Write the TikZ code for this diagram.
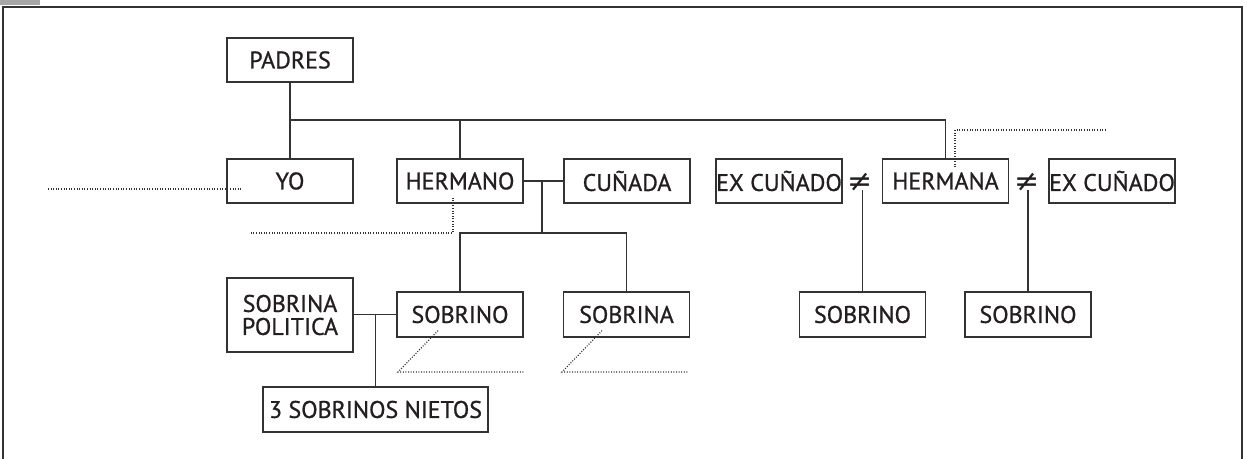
\documentclass[tikz,border=0pt]{standalone}
\usepackage{fontspec}
\setmainfont{PT Sans}[FakeBold=0.9]
\newfontfamily\symfont{DejaVu Sans}
\definecolor{ink}{HTML}{231F20}
\definecolor{ln}{HTML}{333333}
\begin{document}
\begin{tikzpicture}[x=1pt,y=-1pt,
  box/.style={draw=ln,line width=1.2pt,minimum width=126pt,minimum height=44pt,inner sep=0pt,
    font=\fontsize{24}{27}\selectfont,text=ink,align=center},
  conn/.style={draw=ln,line width=1.2pt},
  dots/.style={draw=ln,line width=1.2pt,dash pattern=on 1pt off 1.6pt},
  neq/.style={inner sep=0pt,text=ink,font=\symfont\fontsize{30}{30}\selectfont}]
\useasboundingbox (0,0) rectangle (1247,458);
% frame
\fill[gray!70] (0,0) rectangle (40,5);
\draw[line width=2pt,ln] (3,470) -- (3,6.5) -- (1242,6.5) -- (1242,470);
% nodes
\node[box] (padres) at (290,60) {PADRES};
\node[box] (yo) at (290,181) {YO};
\node[box] (hermano) at (460,181) {HERMANO};
\node[box] (cunada) at (627,181) {CUÑADA};
\node[box] (exc1) at (779,181) {EX CUÑADO};
\node[box] (hermana) at (945.5,181) {HERMANA};
\node[box] (exc2) at (1112,181) {EX CUÑADO};
\node[box,minimum height=74pt] (sp) at (290,315) {SOBRINA\\[-4pt]POLITICA};
\node[box,minimum height=45pt] (sobrino) at (460,314.5) {SOBRINO};
\node[box,minimum height=45pt] (sobrina) at (626.5,314.5) {SOBRINA};
\node[box,minimum width=225pt,minimum height=45pt] (nietos) at (375.5,409.5) {3 SOBRINOS NIETOS};
\node[box,minimum height=45pt] (sobr1) at (862.5,314.5) {SOBRINO};
\node[box,minimum height=45pt] (sobr2) at (1028,314.5) {SOBRINO};
\node[neq] (ne1) at (860.5,182) {≠};
\node[neq] (ne2) at (1027,182) {≠};
% connectors
\coordinate (busL) at (290,120);
\draw[conn] (padres.south) -- (yo.north);
\draw[conn] (busL) -| (hermana.north);
\draw[conn] (busL -| hermano.north) -- (hermano.north);
\draw[conn] (hermano.east) -- (cunada.west);
\coordinate (m1) at (542,181);
\coordinate (m1b) at (542,233);
\draw[conn] (m1) -- (m1b);
\draw[conn] (sobrino.north) |- (m1b) -| (sobrina.north);
\draw[conn] (sp.east |- sobrino.west) -- (sobrino.west);
\coordinate (m2) at (nietos.north |- sobrino.west);
\draw[conn] (m2) -- (nietos.north);
\coordinate (ne1b) at (862.5,190);
\coordinate (ne2b) at (1028,190);
\draw[conn] (ne1b) -- (sobr1.north);
\draw[conn] (ne2b) -- (sobr2.north);
% dotted leaders
\coordinate (yoD) at (48,189);
\draw[dots] (yoD) -- ([xshift=15pt]yo.west |- yoD);
\coordinate (hD) at (250,233);
\draw[dots] ([xshift=-7pt,yshift=6pt]hermano.south) |- (hD);
\coordinate (haD) at (1105,130);
\draw[dots] ([xshift=9.5pt,yshift=-9pt]hermana.north) |- (haD);
\coordinate (s1a) at (398,372);
\coordinate (s1b) at (525,372);
\draw[dots] ([xshift=-22pt,yshift=7pt]sobrino.south) -- (s1a) -- (s1b);
\coordinate (s2a) at (562,372);
\coordinate (s2b) at (688,372);
\draw[dots] ([xshift=-24.5pt,yshift=7pt]sobrina.south) -- (s2a) -- (s2b);
\end{tikzpicture}
\end{document}
